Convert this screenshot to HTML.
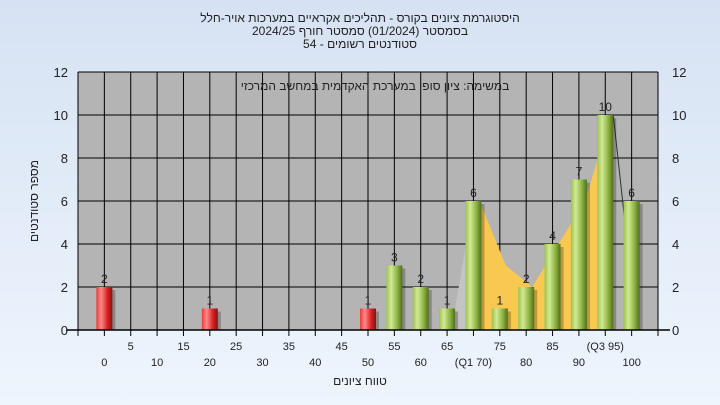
<!DOCTYPE html>
<html><head><meta charset="utf-8">
<style>
body{margin:0;width:720px;height:405px;overflow:hidden;background:linear-gradient(#d6e2f3,#eef5fd);font-family:"Liberation Sans",sans-serif;}
svg{display:block}
svg text{font-family:"Liberation Sans","Noto Sans CJK JP",sans-serif;}
</style></head><body>
<svg width="720" height="405">
<defs>
<linearGradient id="gG" x1="0" x2="1"><stop offset="0" stop-color="#9cc24e"/><stop offset="0.3" stop-color="#d2ea94"/><stop offset="0.7" stop-color="#8ab040"/><stop offset="1" stop-color="#4f6e1c"/></linearGradient>
<linearGradient id="gR" x1="0" x2="1"><stop offset="0" stop-color="#e83a3a"/><stop offset="0.3" stop-color="#ff8888"/><stop offset="0.7" stop-color="#d82020"/><stop offset="1" stop-color="#8a1010"/></linearGradient>
</defs>
<g id="titles">
<text x="360" y="22" text-anchor="middle" font-size="12" fill="#222">היסטוגרמת ציונים בקורס - תהליכים אקראיים במערכות אויר-חלל</text>
<text x="360" y="35" text-anchor="middle" font-size="12" fill="#222">בסמסטר  (01/2024)  סמסטר חורף 2024/25</text>
<text x="360" y="48" text-anchor="middle" font-size="12" fill="#222">סטודנטים רשומים - 54</text>
</g>
<rect x="78" y="72" width="580" height="258" fill="#b4b4b4"/>
<g id="grid"></g>
<g id="area"></g>
<g id="bars"></g>
<text x="375" y="90" text-anchor="middle" font-size="12" fill="#222">במשימה: ציון סופי במערכת האקדמית במחשב המרכזי</text>
<g id="axes"></g>
<text x="360" y="385" text-anchor="middle" font-size="12" fill="#222">טווח ציונים</text>
<text transform="translate(38,201) rotate(-90)" text-anchor="middle" font-size="12" fill="#222">מספר סטודנטים</text>
</svg>
<script>
const categories=[0,20,50,55,60,65,70,75,80,85,90,95,100];
const counts=[2,1,1,3,2,1,6,1,2,4,7,10,6];
const failing=[true,true,true,false,false,false,false,false,false,false,false,false,false];
const areaX=[70,75,80,85,90,95];
const areaY=[6,3,2,4,6,10];
const yTicks=[0,2,4,6,8,10,12];
const xTopTicks=["5","15","25","35","45","55","65","75","85","(Q3 95)"];
const xTopVals=[5,15,25,35,45,55,65,75,85,95];
const xBotTicks=["0","10","20","30","40","50","60","(Q1 70)","80","90","100"];
const xBotVals=[0,10,20,30,40,50,60,70,80,90,100];
const NS="http://www.w3.org/2000/svg";
const X=v=>78+(v+5)*580/110;
const Y=v=>330-v*258/12;
function mk(tag,attrs,parent,txt){const e=document.createElementNS(NS,tag);for(const k in attrs)e.setAttribute(k,attrs[k]);if(txt!==undefined)e.textContent=txt;document.getElementById(parent).appendChild(e);return e;}
for(let v=-5;v<=105;v+=5){const e=mk('line',{x1:X(v),x2:X(v),y1:72,y2:330,stroke:'#000','stroke-width':1},'grid');

}
yTicks.forEach(t=>{const e=mk('line',{x1:78,x2:658,y1:Y(t),y2:Y(t),stroke:'#000','stroke-width':1},'grid');

});
const lg=mk('polygon',{points:`${X(65)+8},${Y(0)} ${X(65)+8},${Y(1)} ${X(70)},${Y(6)} ${X(70)},${Y(0)}`,fill:'#c4c4c4'},'area');


let pts=`${X(areaX[0])},${Y(0)} `+areaX.map((v,i)=>`${X(v)+6},${Y(areaY[i])}`).join(' ')+` ${X(areaX[areaX.length-1])+6},${Y(0)}`;
const ar=mk('polygon',{points:pts,fill:'#f8c850'},'area');


const tl=mk('line',{x1:X(95)+8,y1:Y(10),x2:X(100)-2,y2:Y(3),stroke:'#333','stroke-width':1},'area');


categories.forEach((c,i)=>{const x=X(c),y=Y(counts[i]),w=16;
const s=mk('rect',{x:x-w/2+3,y:y+3,width:w,height:Y(0)-y-3,fill:'#000',opacity:0.25},'bars');


const b=mk('rect',{x:x-w/2,y:y,width:w,height:Y(0)-y,fill:failing[i]?'url(#gR)':'url(#gG)'},'bars');


const t=mk('text',{x:x,y:y-4,'text-anchor':'middle','font-size':12,fill:'#222'},'bars',String(counts[i]));

});
const ax=mk('line',{x1:66,x2:670,y1:330,y2:330,stroke:'#000','stroke-width':1.5},'axes');


yTicks.forEach(t=>{const l=mk('text',{x:68,y:Y(t)+5,'text-anchor':'end','font-size':13,fill:'#222'},'axes',String(t));


const r=mk('text',{x:672,y:Y(t)+5,'text-anchor':'start','font-size':13,fill:'#222'},'axes',String(t));

});
for(let v=-5;v<=105;v+=5){const e=mk('line',{x1:X(v),x2:X(v),y1:330,y2:336,stroke:'#000'},'axes');

}
xTopVals.forEach((v,i)=>{const t=mk('text',{x:X(v),y:350,'text-anchor':'middle','font-size':11,fill:'#222'},'axes',xTopTicks[i]);

});
xBotVals.forEach((v,i)=>{const t=mk('text',{x:X(v),y:366,'text-anchor':'middle','font-size':11,fill:'#222'},'axes',xBotTicks[i]);

});
</script>
</body></html>
